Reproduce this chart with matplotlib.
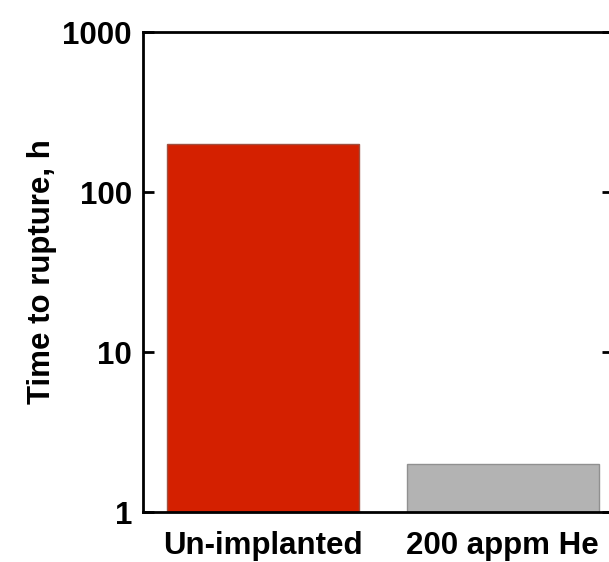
import numpy as np
import matplotlib
matplotlib.use('Agg')
import matplotlib.pyplot as plt

plt.rcParams['font.family'] = ['Liberation Sans', 'DejaVu Sans']

categories = ['Un-implanted', '200 appm He']
rupture_time = [200, 2.0]
bar_colors = ['#D42000', '#B3B3B3']
edge_colors = ['#A05040', '#909090']

W, H = 609, 562
fig = plt.figure(figsize=(W / 100, H / 100), dpi=100)
ax = fig.add_axes([143 / W, 50 / H, (613 - 143) / W, 480 / H])

x = np.arange(len(categories))
ax.set_yscale('log')
ax.bar(x, rupture_time, width=0.80, color=bar_colors,
       edgecolor=edge_colors, linewidth=1.0, zorder=2)

ax.set_ylim(1, 1000)
ax.set_xlim(-0.501, 1.46)
ax.set_yticks([1, 10, 100, 1000])
ax.set_yticklabels(['1', '10', '100', '1000'])
ax.minorticks_off()
ax.set_xticks(x)
ax.set_xticklabels(categories)

for s in ax.spines.values():
    s.set_linewidth(2.0)
    s.set_color('black')

ax.tick_params(axis='y', direction='in', length=8, width=2, right=True,
               labelsize=22.5, pad=8)
ax.tick_params(axis='x', length=0, labelsize=22.5, pad=14)
for lab in ax.get_yticklabels() + ax.get_xticklabels():
    lab.set_fontweight('bold')

ax.set_ylabel('Time to rupture, h', fontsize=22.5, fontweight='bold', labelpad=4)

fig.savefig('out.png', dpi=100)
